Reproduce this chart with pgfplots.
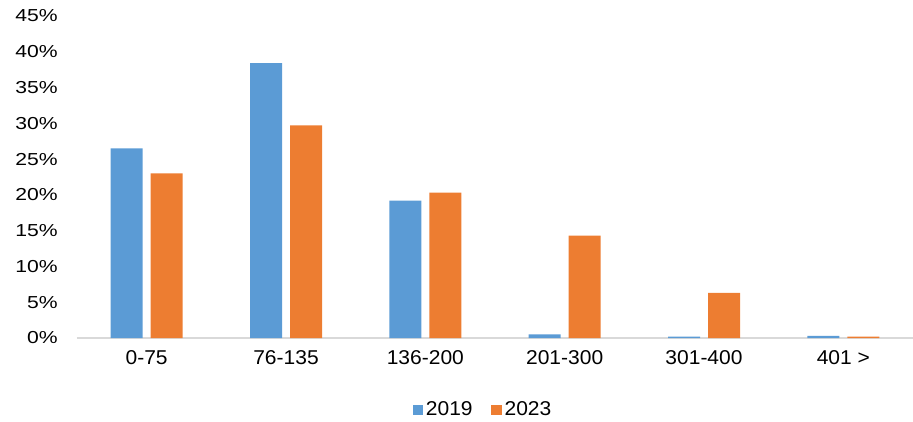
\documentclass[border=0pt]{standalone}
\usepackage{fontspec}
\setmainfont{Liberation Sans}
\newfontfamily\widefont[FakeStretch=1.22]{Liberation Sans}
\newfontfamily\labfont[FakeStretch=1.05]{Liberation Sans}
\usepackage{pgfplots}
\pgfplotsset{compat=1.18}
\definecolor{c2019}{HTML}{5B9BD5}
\definecolor{c2023}{HTML}{ED7D31}
\definecolor{axgray}{HTML}{D9D9D9}
\begin{document}
\begin{tikzpicture}
\useasboundingbox (-57.75pt,-62.25pt) rectangle (627pt,253.5pt);
\begin{axis}[
    at={(0,0)}, anchor=south west,
    scale only axis,
    width=627pt, height=241.5pt,
    ybar, bar width=24pt,
    ymin=0, ymax=45, ytick={0,5,...,45},
    yticklabel={\pgfmathprintnumber{\tick}\%},
    xmin=-0.5, xmax=5.5,
    xtick={0,1,2,3,4,5},
    xticklabels={0-75,76-135,136-200,201-300,301-400,401 >},
    /pgf/number format/assume math mode=true,
    axis lines*=left,
    y axis line style={draw=none},
    x axis line style={axgray, line width=1pt, -},
    major tick length=0pt,
    yticklabel style={anchor=east, xshift=-11pt, font=\widefont\fontsize{13}{15}\selectfont},
    xticklabel style={anchor=center, yshift=-15pt, font=\labfont\fontsize{15}{17}\selectfont},
    legend style={at={(0.486,0)}, anchor=center, yshift=-54pt,
        draw=none, legend columns=2, font=\labfont\fontsize{15}{17}\selectfont,
        /tikz/every even column/.append style={column sep=12pt}},
    legend image code/.code={\fill[#1] (0pt,-4pt) rectangle (8pt,4pt);},
]
\addplot[fill=c2019, draw=none, bar shift=-15pt] coordinates {
    (0,26.5) (1,38.4) (2,19.2) (3,0.5) (4,0.2) (5,0.3)};
\addlegendentry{2019}
\addplot[fill=c2023, draw=none, bar shift=15pt] coordinates {
    (0,23.0) (1,29.7) (2,20.3) (3,14.3) (4,6.3) (5,0.2)};
\addlegendentry{2023}
\end{axis}
\end{tikzpicture}
\end{document}
